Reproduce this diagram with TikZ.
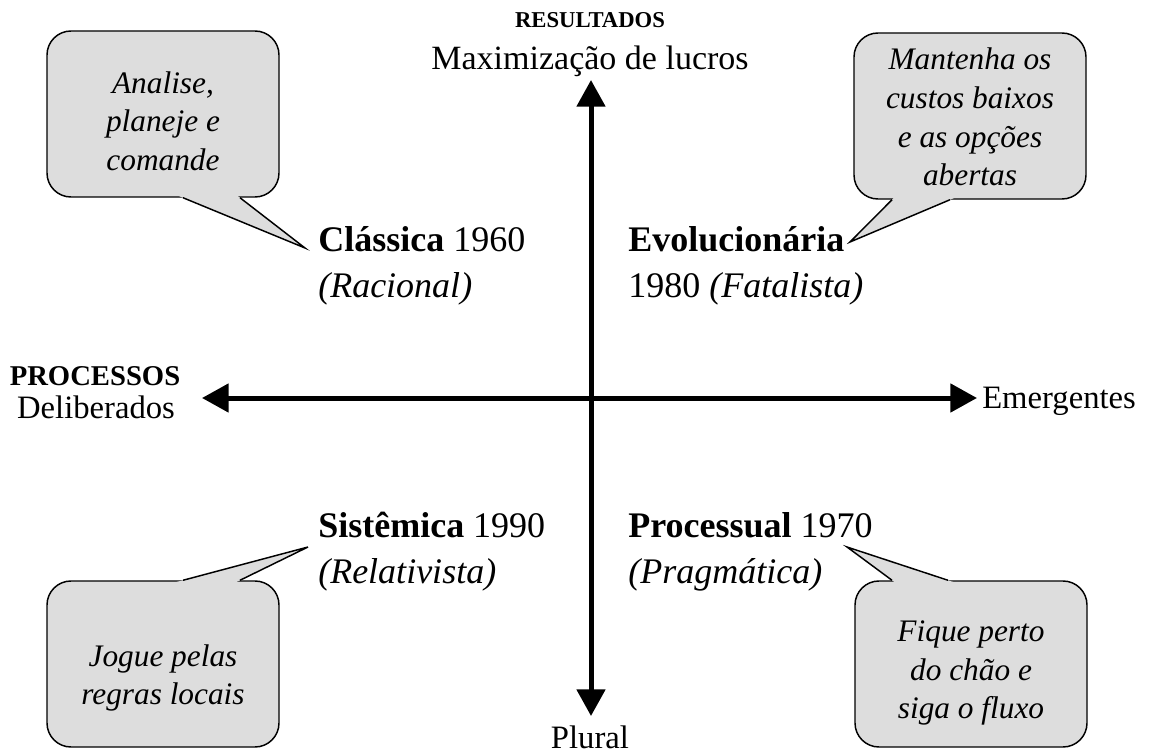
\documentclass[tikz,border=0pt]{standalone}
\usepackage{fontspec}
\setmainfont{Liberation Serif}
\usetikzlibrary{arrows.meta,positioning,calc}
\definecolor{cinzabalao}{RGB}{221,221,221}

\begin{document}
\begin{tikzpicture}[x=0.75pt,y=-0.75pt,
    eixo/.style={line width=3.75pt,{Triangle[length=20pt,width=21pt]}-{Triangle[length=20pt,width=21pt]}},
    balao/.style={draw,line width=1.1pt,fill=cinzabalao,rounded corners=18pt,
        minimum width=174pt,minimum height=124.5pt},
    fala/.style={align=center,font=\fontsize{23.5}{29}\selectfont\itshape},
    escola/.style={anchor=base west,inner sep=0pt,font=\fontsize{27}{32}\selectfont},
    rotulo/.style={inner sep=0pt,anchor=base,font=\fontsize{24.5}{29}\selectfont},
    cauda/.style={line width=1.1pt,line join=miter}]
\useasboundingbox (0,0) rectangle (1149,756);

\coordinate (n) at (591,80);
\coordinate (s) at (591,716);
\coordinate (w) at (202,398);
\coordinate (e) at (977,398);
\draw[eixo] (s) -- (n);
\draw[eixo] (w) -- (e);

\node[rotulo,font=\fontsize{17}{20}\selectfont\bfseries] (res) at (590,28) {RESULTADOS};
\node[rotulo,font=\fontsize{25.5}{30}\selectfont] (lucro) at (590,70) {Maximização de lucros};
\node[rotulo,font=\fontsize{21.5}{25}\selectfont\bfseries] (proc) at (95,385) {PROCESSOS};
\node[rotulo] (delib) at (96,418) {Deliberados};
\node[rotulo,anchor=base west] (emerg) at (982,408) {Emergentes};
\node[rotulo] (plural) at (590,748) {Plural};

\node[escola] (cla) at (318,251) {\textbf{Clássica} 1960};
\node[escola] (clb) at (318,297) {\textit{(Racional)}};
\node[escola] (evoa) at (628,251) {\textbf{Evolucionária}};
\node[escola] (evob) at (628,297) {1980 \textit{(Fatalista)}};
\node[escola] (sisa) at (318,537) {\textbf{Sistêmica} 1990};
\node[escola] (sisb) at (318,583) {\textit{(Relativista)}};
\node[escola] (proa) at (628,537) {\textbf{Processual} 1970};
\node[escola] (prob) at (628,583) {\textit{(Pragmática)}};

\node[balao] (b1) at (163,114) {};
\node[fala] (f1) at (163,121) {Analise,\\planeje e\\comande};
\node[balao] (b2) at (970,116) {};
\node[fala] (f2) at (970,117) {Mantenha os\\custos baixos\\e as opções\\abertas};
\node[balao] (b3) at (163,664) {};
\node[fala] (f3) at (163,678) {Jogue pelas\\regras locais};
\node[balao] (b4) at (971,664) {};
\node[fala] (f4) at (971,673) {Fique perto\\do chão e\\siga o fluxo};

\coordinate (t1) at (305,248);
\coordinate (t2) at (850,242);
\coordinate (t3) at (308,547);
\coordinate (t4) at (847,547);

\foreach \b/\t/\p/\u/\v in {b1/t1/south/20/77,b2/t2/south/-78/-20,b3/t3/north/20/77,b4/t4/north/-79/-23}{
  \coordinate (\b a) at ($(\b.\p)+(\u,0)$);
  \coordinate (\b b) at ($(\b.\p)+(\v,0)$);
  \fill[cinzabalao] ($(\t)!1.1!(\b a)$) -- (\t) -- ($(\t)!1.1!(\b b)$) -- cycle;
  \draw[cauda] (\b a) -- (\t) -- (\b b);
}
\end{tikzpicture}
\end{document}
